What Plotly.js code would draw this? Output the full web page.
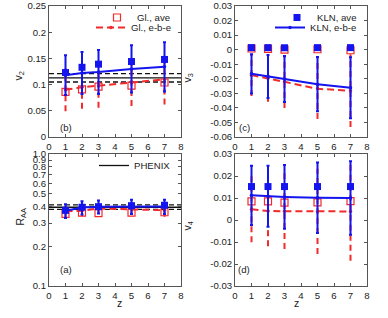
<!DOCTYPE html>
<html>
<head>
<meta charset="utf-8">
<script src="https://cdn.plot.ly/plotly-3.0.1.min.js"></script>
<style>html,body{margin:0;padding:0;background:#fff;} #chart{width:388px;height:318px;}</style>
</head>
<body>
<div id="chart"></div>
<script>
// ---------------- data ----------------
const zVals = [1, 2, 3, 5, 7];
const xTicks = [0, 1, 2, 3, 4, 5, 6, 7, 8];

// (b) v2
const v2GlAve = [0.086, 0.091, 0.096, 0.098, 0.104];
const v2GlEbe = [0.090, 0.095, 0.098, 0.104, 0.110];
const v2GlEbeErr = [0.041, 0.041, 0.042, 0.045, 0.048];
const v2KlnAve = [0.123, 0.133, 0.139, 0.144, 0.148];
const v2KlnEbe = [0.118, 0.122, 0.124, 0.130, 0.134];
const v2KlnEbeErr = [0.038, 0.040, 0.042, 0.045, 0.047];
const phenixV2 = 0.113, phenixV2Lo = 0.105, phenixV2Hi = 0.121;
const v2Ticks = [0, 0.05, 0.1, 0.15, 0.2, 0.25];
const v2TickText = ["0", "0.05", "0.1", "0.15", "0.2", "0.25"];

// (c) v3
const v3GlAve = [0.0008, 0.0005, 0.0000, 0.0003, -0.0004];
const v3GlEbe = [-0.0175, -0.0196, -0.0221, -0.0269, -0.0282];
const v3GlEbeErr = [0.0144, 0.0162, 0.0180, 0.0207, 0.0250];
const v3KlnAve = [0.0014, 0.0014, 0.0013, 0.0014, 0.0014];
const v3KlnEbe = [-0.0166, -0.0184, -0.0202, -0.0237, -0.0262];
const v3KlnEbeErr = [0.0135, 0.0148, 0.0158, 0.0186, 0.0210];
const v3Ticks = [-0.06, -0.05, -0.04, -0.03, -0.02, -0.01, 0, 0.01, 0.02, 0.03];
const v3TickText = ["-0.06", "-0.05", "-0.04", "-0.03", "-0.02", "-0.01", "0", "0.01", "0.02", "0.03"];

// (a) R_AA
const raaGlAve = [0.352, 0.360, 0.356, 0.360, 0.362];
const raaGlEbe = [0.368, 0.372, 0.386, 0.381, 0.375];
const raaGlEbeErr = [0.035, 0.035, 0.035, 0.035, 0.040];
const raaKlnAve = [0.374, 0.395, 0.399, 0.406, 0.409];
const raaKlnEbe = [0.372, 0.393, 0.399, 0.401, 0.401];
const raaKlnEbeErr = [0.045, 0.045, 0.045, 0.050, 0.050];
const phenixRaa = 0.395, phenixRaaLo = 0.380, phenixRaaHi = 0.412;
const raaTicks = [0.1, 0.2, 0.3, 0.4, 0.5, 0.6, 0.7, 0.8, 0.9, 1.0];
const raaTickText = ["0.1", "0.2", "0.3", "0.4", "0.5", "0.6", "0.7", "0.8", "0.9", "1.0"];

// (d) v4
const v4GlAve = [0.0085, 0.0085, 0.0079, 0.0080, 0.0086];
const v4GlEbe = [0.0049, 0.0041, 0.0040, 0.0039, 0.0039];
const v4GlEbeErr = [0.0150, 0.0160, 0.0172, 0.0194, 0.0224];
const v4KlnAve = [0.0152, 0.0152, 0.0152, 0.0152, 0.0152];
const v4KlnEbe = [0.0112, 0.0108, 0.0105, 0.0101, 0.0100];
const v4KlnEbeErr = [0.0135, 0.0139, 0.0145, 0.0160, 0.0167];
const v4Ticks = [-0.03, -0.02, -0.01, 0, 0.01, 0.02, 0.03];
const v4TickText = ["-0.03", "-0.02", "-0.01", "0", "0.01", "0.02", "0.03"];

// ---------------- styling ----------------
const W = 388, H = 318;
const RED = '#f22a2a', BLUE = '#1414ee';
const FONT = 'Liberation Sans, Arial, sans-serif';
const FS = 9.6;
const px = x => x / W;
const py = y => 1 - y / H;

function dashedBars(xs, c, e) {
  const X = [], Y = [];
  xs.forEach((x, i) => { X.push(x, x, null); Y.push(c[i] - e[i], c[i] + e[i], null); });
  return {X, Y};
}

const traces = [];
// legIds: [glAve, glEbe, klnAve, klnEbe] legend ids or null
function panel(xa, ya, glAve, glEbe, glErr, klnAve, klnEbe, klnErr, legIds) {
  const db = dashedBars(zVals, glEbe, glErr);
  traces.push({x: db.X, y: db.Y, xaxis: xa, yaxis: ya, mode: 'lines', showlegend: false,
    line: {color: RED, width: 2, dash: '6px,4px'}, hoverinfo: 'skip'});
  traces.push({x: zVals, y: glAve, xaxis: xa, yaxis: ya, mode: 'markers', name: 'Gl., ave',
    showlegend: !!legIds[0], legend: legIds[0] || 'legend',
    marker: {symbol: 'square-open', size: 7, color: RED, line: {width: 1.2}}});
  traces.push({x: zVals, y: glEbe, xaxis: xa, yaxis: ya, mode: 'lines+markers', name: 'Gl., e-b-e',
    showlegend: !!legIds[1], legend: legIds[1] || 'legend',
    line: {color: RED, width: 2, dash: '7px,4px'}, marker: {size: 3.5, color: RED}});
  traces.push({x: zVals, y: klnEbe, xaxis: xa, yaxis: ya, mode: 'markers', showlegend: false,
    marker: {size: 3, color: BLUE},
    error_y: {type: 'data', array: klnErr, visible: true, color: BLUE, thickness: 2, width: 1.5}});
  traces.push({x: zVals, y: klnAve, xaxis: xa, yaxis: ya, mode: 'markers', name: 'KLN, ave',
    showlegend: !!legIds[2], legend: legIds[2] || 'legend',
    marker: {symbol: 'square', size: 7, color: BLUE}});
  traces.push({x: zVals, y: klnEbe, xaxis: xa, yaxis: ya, mode: 'lines+markers', name: 'KLN, e-b-e',
    showlegend: !!legIds[3], legend: legIds[3] || 'legend',
    line: {color: BLUE, width: 2}, marker: {size: 3.5, color: BLUE}});
}

panel('x', 'y', v2GlAve, v2GlEbe, v2GlEbeErr, v2KlnAve, v2KlnEbe, v2KlnEbeErr, ['legend', 'legend2', null, null]);
panel('x2', 'y2', v3GlAve, v3GlEbe, v3GlEbeErr, v3KlnAve, v3KlnEbe, v3KlnEbeErr, [null, null, 'legend3', 'legend4']);
panel('x3', 'y3', raaGlAve, raaGlEbe, raaGlEbeErr, raaKlnAve, raaKlnEbe, raaKlnEbeErr, [null, null, null, null]);
panel('x4', 'y4', v4GlAve, v4GlEbe, v4GlEbeErr, v4KlnAve, v4KlnEbe, v4KlnEbeErr, [null, null, null, null]);

const AX_COLOR = '#555';
function xAxis(domain, anchor) {
  return {domain, anchor, range: [0, 8], tickmode: 'array', tickvals: xTicks, ticktext: xTicks.map(String),
    ticks: 'inside', ticklen: 3, tickcolor: AX_COLOR, showline: true, linecolor: AX_COLOR, linewidth: 1,
    mirror: 'ticks', showgrid: false, zeroline: false, tickfont: {size: FS, color: '#222', family: FONT}};
}
function yAxis(domain, anchor, range, vals, text, type) {
  return {domain, anchor, range, type: type || 'linear', tickmode: 'array', tickvals: vals, ticktext: text,
    ticks: 'inside', ticklen: 3, tickcolor: AX_COLOR, showline: true, linecolor: AX_COLOR, linewidth: 1,
    mirror: 'ticks', showgrid: false, zeroline: false, tickfont: {size: FS, color: '#222', family: FONT}};
}

const colL = [px(49), px(181)], colR = [px(235), px(367)];
const rowT = [py(137), py(6)], rowB = [py(286), py(154)];

function hline(xref, yref, y, dash, name, legendId) {
  const s = {type: 'line', xref: xref + ' domain', yref, x0: 0, x1: 1, y0: y, y1: y, layer: 'below',
    line: {color: '#111', width: 1.3, dash}};
  if (name) { s.showlegend = true; s.name = name; s.legend = legendId; }
  return s;
}

const ann = (x, y, text, opts) => Object.assign({xref: 'paper', yref: 'paper', x: px(x), y: py(y), text,
  showarrow: false, font: {size: FS, color: '#222', family: FONT}}, opts || {});

const legendBase = {bgcolor: 'rgba(0,0,0,0)', borderwidth: 0, itemwidth: 30, xanchor: 'right', yanchor: 'top',
  font: {size: FS, color: '#222', family: FONT}, tracegroupgap: 0};
const leg = (x, y) => Object.assign({}, legendBase, {x: px(x), y: py(y)});

const layout = {
  width: W, height: H, margin: {l: 0, r: 0, t: 0, b: 0}, paper_bgcolor: '#fff', plot_bgcolor: '#fff',
  font: {family: FONT, size: FS, color: '#222'},
  xaxis: xAxis(colL, 'y'), yaxis: yAxis(rowT, 'x', [0, 0.25], v2Ticks, v2TickText),
  xaxis2: xAxis(colR, 'y2'), yaxis2: yAxis(rowT, 'x2', [-0.06, 0.03], v3Ticks, v3TickText),
  xaxis3: xAxis(colL, 'y3'), yaxis3: yAxis(rowB, 'x3', [-1, 0], raaTicks, raaTickText, 'log'),
  xaxis4: xAxis(colR, 'y4'), yaxis4: yAxis(rowB, 'x4', [-0.03, 0.03], v4Ticks, v4TickText),
  legend: leg(176, 3),
  legend2: leg(176, 13),
  legend3: leg(362, 3),
  legend4: leg(362, 13),
  legend5: leg(176, 151),
  shapes: [
    hline('x', 'y', phenixV2, 'solid'), hline('x', 'y', phenixV2Lo, '5px,3px'), hline('x', 'y', phenixV2Hi, '5px,3px'),
    hline('x3', 'y3', phenixRaa, 'solid', 'PHENIX', 'legend5'),
    hline('x3', 'y3', phenixRaaLo, '5px,3px'), hline('x3', 'y3', phenixRaaHi, '5px,3px')
  ],
  annotations: [
    ann(58, 127, '(b)'), ann(244, 127, '(c)'), ann(58, 277, '(a)'), ann(244, 277, '(d)'),
    ann(10, 70, 'v<sub>2</sub>', {textangle: -90, font: {size: 10.5, color: '#222', family: FONT}}),
    ann(188, 72, 'v<sub>3</sub>', {textangle: -90, font: {size: 10.5, color: '#222', family: FONT}}),
    ann(12, 228, 'R<sub>AA</sub>', {textangle: -90, font: {size: 10.5, color: '#222', family: FONT}}),
    ann(188, 233, 'v<sub>4</sub>', {textangle: -90, font: {size: 10.5, color: '#222', family: FONT}}),
    ann(115, 311, 'z', {font: {size: 10.5, color: '#222', family: FONT}}),
    ann(301, 311, 'z', {font: {size: 10.5, color: '#222', family: FONT}})
  ]
};

Plotly.newPlot('chart', traces, layout, {staticPlot: true, displayModeBar: false});
</script>
</body>
</html>
